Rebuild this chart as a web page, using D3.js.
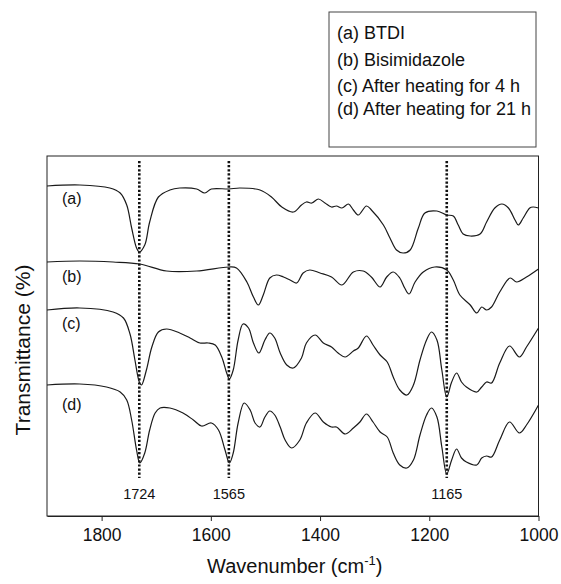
<!DOCTYPE html>
<html>
<head>
<meta charset="utf-8">
<script src="https://cdn.jsdelivr.net/npm/d3@7"></script>
<style>
  body { margin: 0; background: #fff; }
  text { font-family: "Liberation Sans", Arial, sans-serif; fill: #111; }
</style>
</head>
<body>
<div id="chart"></div>
<script>
// spectra: [wavenumber, offset transmittance (arb.)]
var btdi = [[1900,330],[1840,331],[1785,328],[1766,323],[1754,311],[1745,288],[1736,268],[1731,264],[1721,271],[1712,294],[1696,319],[1675,326],[1657,328],[1626,327],[1611,323],[1599,327],[1567,327],[1547,328],[1510,326],[1489,319],[1470,309],[1449,304],[1434,311],[1425,314],[1415,313],[1403,317],[1391,313],[1379,309],[1370,310],[1360,308],[1348,312],[1339,306],[1330,301],[1315,310],[1306,306],[1284,291],[1272,278],[1260,266],[1248,263],[1235,266],[1220,288],[1208,303],[1186,305],[1168,301],[1156,300],[1147,291],[1138,282],[1125,280],[1107,282],[1095,294],[1080,308],[1067,312],[1055,308],[1043,296],[1037,291],[1028,298],[1016,308],[1010,309],[1000,308]];
var bisimidazole = [[1900,254],[1840,255],[1779,254],[1730,252],[1681,245],[1626,245],[1567,249],[1553,248],[1534,234],[1522,219],[1513,211],[1504,221],[1492,238],[1480,241],[1467,239],[1455,236],[1443,233],[1431,243],[1419,246],[1400,243],[1379,239],[1360,231],[1339,244],[1321,245],[1306,239],[1290,229],[1278,239],[1266,244],[1254,238],[1245,228],[1237,222],[1226,234],[1211,244],[1190,249],[1168,246],[1156,236],[1144,221],[1125,211],[1113,203],[1104,209],[1095,206],[1086,209],[1071,224],[1052,238],[1040,234],[1022,239],[1000,247]];
var heated4h = [[1900,206],[1840,208],[1779,204],[1760,198],[1748,182],[1739,156],[1731,134],[1727,131],[1718,146],[1708,169],[1696,184],[1681,187],[1657,183],[1638,178],[1620,173],[1605,173],[1592,171],[1580,159],[1571,143],[1566,137],[1559,146],[1550,176],[1541,192],[1531,188],[1522,173],[1512,163],[1501,176],[1492,183],[1483,178],[1473,163],[1461,151],[1449,148],[1434,158],[1425,173],[1409,181],[1394,173],[1379,169],[1367,163],[1354,159],[1339,165],[1330,168],[1315,180],[1303,171],[1290,161],[1277,154],[1266,139],[1254,126],[1241,121],[1229,131],[1217,156],[1205,176],[1196,184],[1186,176],[1177,146],[1168,119],[1159,134],[1150,143],[1141,134],[1132,129],[1113,124],[1104,129],[1095,134],[1086,133],[1071,153],[1053,170],[1035,159],[1022,169],[1000,188]];
var heated21h = [[1900,131],[1840,132],[1791,129],[1766,124],[1754,116],[1745,96],[1736,66],[1730,53],[1721,63],[1712,86],[1702,103],[1693,108],[1675,108],[1651,103],[1632,96],[1617,90],[1599,93],[1586,86],[1574,66],[1566,53],[1559,63],[1550,93],[1539,113],[1528,106],[1519,93],[1510,89],[1501,99],[1492,105],[1483,101],[1473,89],[1464,76],[1452,68],[1437,76],[1425,93],[1409,103],[1394,94],[1379,89],[1370,89],[1354,82],[1339,88],[1327,94],[1315,102],[1303,94],[1290,84],[1277,79],[1266,63],[1254,51],[1241,48],[1229,56],[1217,81],[1205,101],[1196,108],[1186,99],[1177,69],[1168,42],[1159,56],[1150,67],[1141,58],[1132,54],[1113,51],[1104,58],[1095,60],[1086,59],[1071,76],[1053,94],[1035,83],[1022,91],[1000,111]];

var seriesTags = ["(a)", "(b)", "(c)", "(d)"];
var legendLabels = ["(a) BTDI", "(b) Bisimidazole", "(c) After heating for 4 h", "(d) After heating for 21 h"];
var peakPositions = [1731, 1567, 1168];
var peakLabels = ["1724", "1565", "1165"];
var xTicks = [1800, 1600, 1400, 1200, 1000];

var width = 561;
var height = 584;
var plot = { left: 47, right: 538.5, top: 156, bottom: 516 };

var svg = d3.select("#chart")
  .append("svg")
  .attr("width", width)
  .attr("height", height);

var xScale = d3.scaleLinear()
  .domain([1900, 1000])
  .range([plot.left, plot.right]);

var yScale = d3.scaleLinear()
  .domain([0, 360])
  .range([plot.bottom, plot.top]);

// frame
svg.append("rect")
  .attr("x", plot.left)
  .attr("y", plot.top)
  .attr("width", plot.right - plot.left)
  .attr("height", plot.bottom - plot.top)
  .attr("fill", "none")
  .attr("stroke", "#222")
  .attr("stroke-width", 1);

var xAxis = d3.axisBottom(xScale)
  .tickValues(xTicks)
  .tickFormat(d3.format("d"))
  .tickSize(5)
  .tickSizeOuter(0)
  .tickPadding(8);

var xAxisG = svg.append("g")
  .attr("transform", `translate(0, ${plot.bottom})`)
  .call(xAxis);
xAxisG.select(".domain").attr("stroke", "#222");
xAxisG.selectAll(".tick line").attr("stroke", "#222");
xAxisG.selectAll(".tick text")
  .style("font-size", "17.5px")
  .style("font-family", "Liberation Sans, Arial, sans-serif")
  .attr("fill", "#111");

// dotted peak markers
var peaks = svg.append("g");
peakPositions.forEach(function(p, i) {
  peaks.append("line")
    .attr("x1", xScale(p))
    .attr("x2", xScale(p))
    .attr("y1", yScale(355))
    .attr("y2", yScale(38))
    .attr("stroke", "#111")
    .attr("stroke-width", 2.6)
    .attr("stroke-dasharray", "2.2,1.9");
  peaks.append("text")
    .attr("x", xScale(p))
    .attr("y", yScale(17))
    .attr("text-anchor", "middle")
    .style("font-size", "14.5px")
    .text(peakLabels[i]);
});

var line = d3.line()
  .x(d => xScale(d[0]))
  .y(d => yScale(d[1]))
  .curve(d3.curveCatmullRom.alpha(0.5));

var spectra = [btdi, bisimidazole, heated4h, heated21h];
var tagOffsets = [18, 20, 19, 25];

spectra.forEach(function(s, i) {
  svg.append("path")
    .datum(s)
    .attr("d", line)
    .attr("fill", "none")
    .attr("stroke", "#1a1a1a")
    .attr("stroke-width", 1.2);

  svg.append("text")
    .attr("x", plot.left + 15)
    .attr("y", yScale(s[0][1]) + tagOffsets[i])
    .style("font-size", "16px")
    .text(seriesTags[i]);
});

// legend box
var legend = svg.append("g");
legend.append("rect")
  .attr("x", 329)
  .attr("y", 12)
  .attr("width", 207)
  .attr("height", 135)
  .attr("fill", "none")
  .attr("stroke", "#444")
  .attr("stroke-width", 1);

var legendBaselines = [39, 66, 92, 115];
legend.selectAll("text")
  .data(legendLabels)
  .enter()
  .append("text")
  .attr("x", 337)
  .attr("y", (d, i) => legendBaselines[i])
  .style("font-size", "18px")
  .text(d => d);

// axis titles
var xTitle = svg.append("text")
  .attr("x", (plot.left + plot.right) / 2 + 2)
  .attr("y", 573)
  .attr("text-anchor", "middle")
  .style("font-size", "20px");
xTitle.append("tspan").text("Wavenumber (cm");
xTitle.append("tspan").attr("dy", -8).style("font-size", "13px").text("-1");
xTitle.append("tspan").attr("dy", 8).text(")");

svg.append("text")
  .attr("transform", "rotate(-90)")
  .attr("x", -350)
  .attr("y", 30)
  .attr("text-anchor", "middle")
  .style("font-size", "21px")
  .text("Transmittance (%)");
</script>
</body>
</html>
